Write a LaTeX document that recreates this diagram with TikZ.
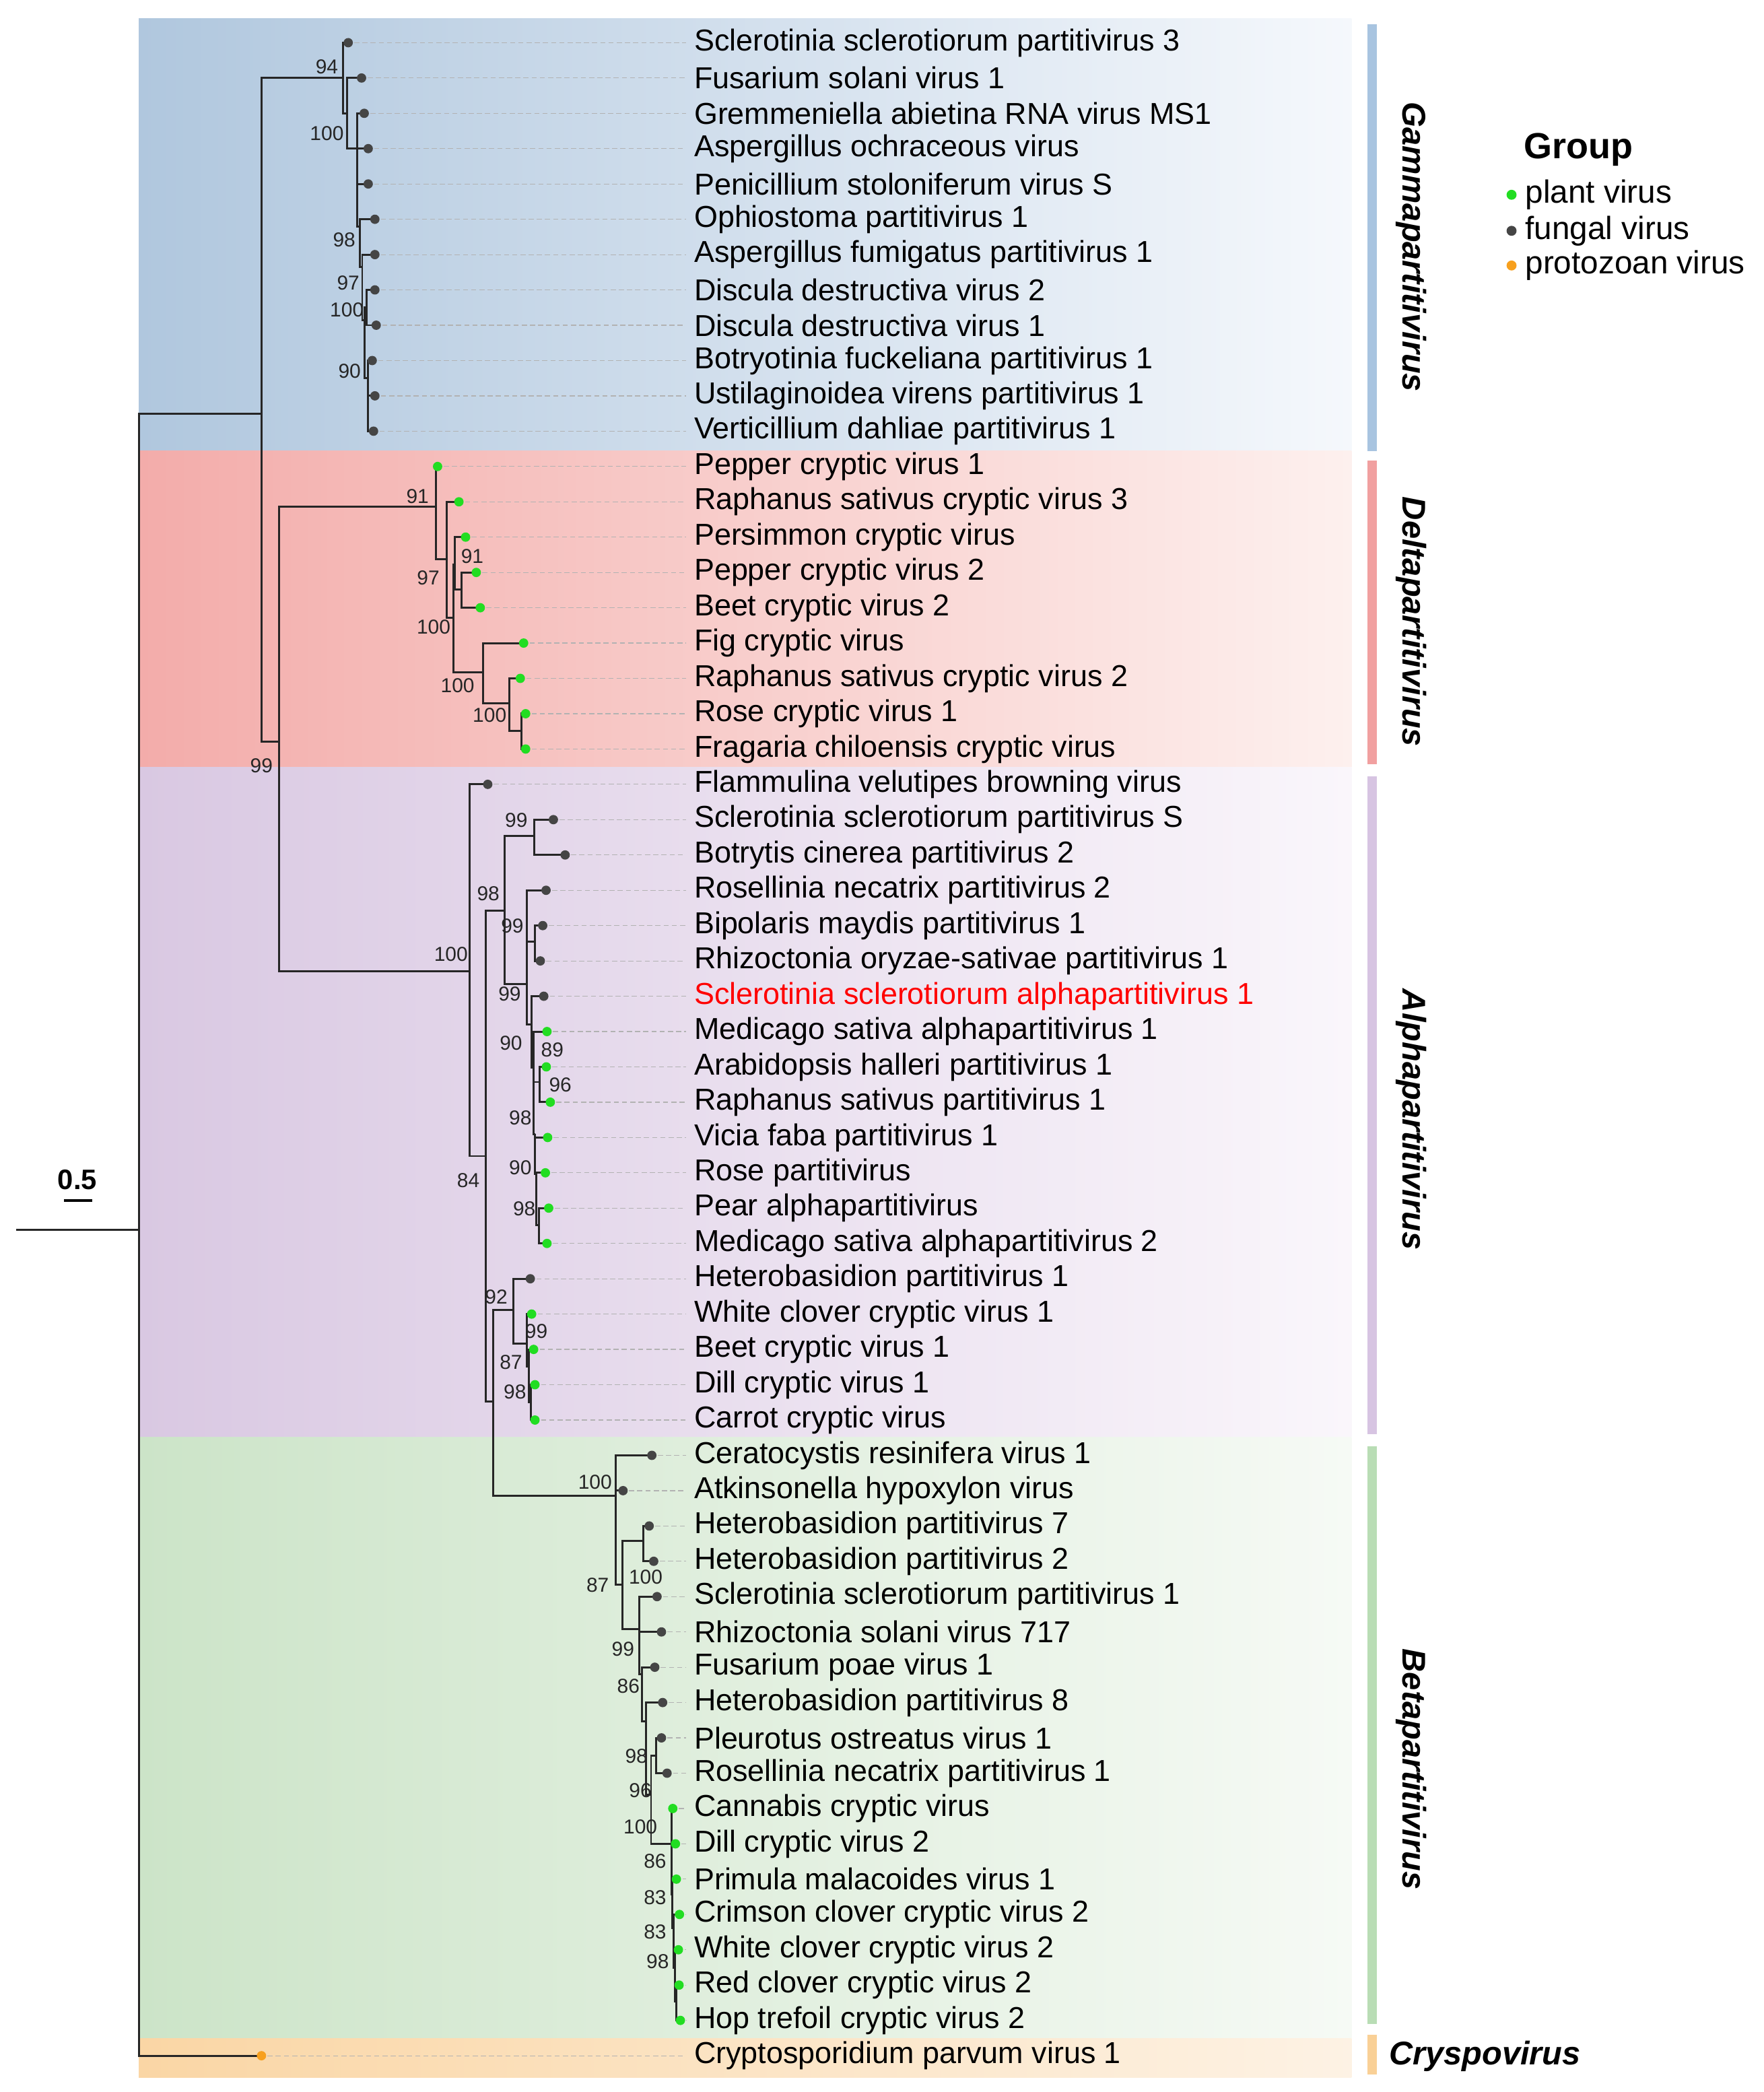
\documentclass[tikz,border=0pt]{standalone}
\usepackage{fontspec}
\setmainfont{Liberation Sans}
\definecolor{fungalc}{RGB}{69,69,69}
\definecolor{plantc}{RGB}{34,221,34}
\definecolor{protoc}{RGB}{247,160,30}
\definecolor{ssred}{RGB}{255,0,0}
\definecolor{gammal}{RGB}{176,199,222}
\definecolor{gammar}{RGB}{245,248,252}
\definecolor{deltal}{RGB}{243,172,170}
\definecolor{deltar}{RGB}{253,240,238}
\definecolor{alphal}{RGB}{217,200,226}
\definecolor{alphar}{RGB}{250,246,251}
\definecolor{betal}{RGB}{204,228,200}
\definecolor{betar}{RGB}{246,250,245}
\definecolor{cryspol}{RGB}{250,214,165}
\definecolor{cryspor}{RGB}{253,242,228}
\definecolor{gammabar}{RGB}{168,196,224}
\definecolor{deltabar}{RGB}{241,160,160}
\definecolor{alphabar}{RGB}{215,196,226}
\definecolor{betabar}{RGB}{185,221,181}
\definecolor{cryspobar}{RGB}{249,208,150}
\begin{document}
\begin{tikzpicture}[
        x=0.02cm, y=-0.02cm,
        branch/.style={line width=0.85pt, black!85},
        guide/.style={gray!60, line width=0.35pt, dash pattern=on 2.2pt off 1.3pt},
        leaf/.style={anchor=west, inner sep=0pt, font=\fontsize{12.9}{14}\selectfont},
        boot/.style={inner sep=0pt, font=\fontsize{8.6}{10}\selectfont, text=black!85},
        clade/.style={inner sep=0pt, font=\fontsize{14}{16}\selectfont\bfseries\itshape},
        legend/.style={anchor=west, inner sep=0pt, font=\fontsize{13.7}{15}\selectfont},
        fungal/.style={fill=fungalc},
        plant/.style={fill=plantc},
        protozoan/.style={fill=protoc}
    ]
        \useasboundingbox (0,0) rectangle (1322,1568);

        % Clade bands (drawn first)
        \shade[left color=gammal, right color=gammar] (104,14) rectangle (1013,338);
        \shade[left color=deltal, right color=deltar] (104,338) rectangle (1013,575);
        \shade[left color=alphal, right color=alphar] (104,575) rectangle (1013,1077);
        \shade[left color=betal, right color=betar] (104,1077) rectangle (1013,1528);
        \shade[left color=cryspol, right color=cryspor] (104,1528) rectangle (1013,1557);

        % Clade bars and names
        \fill[gammabar] (1025,18) rectangle (1032,338);
        \fill[deltabar] (1025,345) rectangle (1032,573);
        \fill[alphabar] (1025,582) rectangle (1032,1075);
        \fill[betabar] (1025,1084) rectangle (1032,1517);
        \fill[cryspobar] (1025,1525) rectangle (1032,1555);
        \node[clade, rotate=-90] (gammaname) at (1058,185) {Gammapartitivirus};
        \node[clade, rotate=-90] (deltaname) at (1058,466) {Deltapartitivirus};
        \node[clade, rotate=-90] (alphaname) at (1058,839) {Alphapartitivirus};
        \node[clade, rotate=-90] (betaname) at (1058,1326) {Betapartitivirus};
        \node[clade] (crysponame) at (1113,1541) {Cryspovirus};

        % Leaves: tip points and names
        \foreach \i/\tx/\name in {
            0/261/{Sclerotinia sclerotiorum partitivirus 3},
            1/271/{Fusarium solani virus 1},
            2/273/{Gremmeniella abietina RNA virus MS1},
            3/276/{Aspergillus ochraceous virus},
            4/276/{Penicillium stoloniferum virus S},
            5/281/{Ophiostoma partitivirus 1},
            6/281/{Aspergillus fumigatus partitivirus 1},
            7/281/{Discula destructiva virus 2},
            8/282/{Discula destructiva virus 1},
            9/279/{Botryotinia fuckeliana partitivirus 1},
            10/281/{Ustilaginoidea virens partitivirus 1},
            11/280/{Verticillium dahliae partitivirus 1},
            12/328/{Pepper cryptic virus 1},
            13/344/{Raphanus sativus cryptic virus 3},
            14/349/{Persimmon cryptic virus},
            15/357/{Pepper cryptic virus 2},
            16/360/{Beet cryptic virus 2},
            17/392.5/{Fig cryptic virus},
            18/390/{Raphanus sativus cryptic virus 2},
            19/394/{Rose cryptic virus 1},
            20/394/{Fragaria chiloensis cryptic virus},
            21/365.6/{Flammulina velutipes browning virus},
            22/414.8/{Sclerotinia sclerotiorum partitivirus S},
            23/423.6/{Botrytis cinerea partitivirus 2},
            24/409.3/{Rosellinia necatrix partitivirus 2},
            25/406.8/{Bipolaris maydis partitivirus 1},
            26/405/{Rhizoctonia oryzae-sativae partitivirus 1},
            27/407.6/{\textcolor{ssred}{Sclerotinia sclerotiorum alphapartitivirus 1}},
            28/410/{Medicago sativa alphapartitivirus 1},
            29/409.5/{Arabidopsis halleri partitivirus 1},
            30/412.5/{Raphanus sativus partitivirus 1},
            31/410.5/{Vicia faba partitivirus 1},
            32/408.8/{Rose partitivirus},
            33/411.3/{Pear alphapartitivirus},
            34/410/{Medicago sativa alphapartitivirus 2},
            35/397.5/{Heterobasidion partitivirus 1},
            36/398.5/{White clover cryptic virus 1},
            37/400/{Beet cryptic virus 1},
            38/401/{Dill cryptic virus 1},
            39/401/{Carrot cryptic virus},
            40/488.6/{Ceratocystis resinifera virus 1},
            41/467/{Atkinsonella hypoxylon virus},
            42/486.6/{Heterobasidion partitivirus 7},
            43/490/{Heterobasidion partitivirus 2},
            44/492.5/{Sclerotinia sclerotiorum partitivirus 1},
            45/495.8/{Rhizoctonia solani virus 717},
            46/490.8/{Fusarium poae virus 1},
            47/496.7/{Heterobasidion partitivirus 8},
            48/495.8/{Pleurotus ostreatus virus 1},
            49/500/{Rosellinia necatrix partitivirus 1},
            50/504.3/{Cannabis cryptic virus},
            51/506.3/{Dill cryptic virus 2},
            52/507/{Primula malacoides virus 1},
            53/509.3/{Crimson clover cryptic virus 2},
            54/508.5/{White clover cryptic virus 2},
            55/509/{Red clover cryptic virus 2},
            56/510/{Hop trefoil cryptic virus 2},
            57/196/{Cryptosporidium parvum virus 1}} {
            \coordinate (t\i) at (\tx,{32+26.47*\i});
            \node[leaf] (l\i) at (520,{32+26.47*\i}) {\name};
            \draw[guide] ([xshift=0.09cm]t\i) -- ([xshift=-0.12cm]l\i.west);
        }

        % Internal nodes
        \coordinate (base) at (12,922);
        \coordinate (root) at (104,922);
        \coordinate (n1) at (196,310);
        \coordinate (n2) at (209,556);
        \coordinate (g0) at (257,58.5);
        \coordinate (g1) at (260,85);
        \coordinate (g2) at (267.6,111.4);
        \coordinate (g3) at (269.5,170);
        \coordinate (g4) at (271.5,200);
        \coordinate (g5) at (273.5,240);
        \coordinate (g6) at (275,230.5);
        \coordinate (g7) at (276,283.5);
        \coordinate (d0) at (327,380);
        \coordinate (d1) at (335,419);
        \coordinate (d2) at (340,463);
        \coordinate (d3) at (341,423);
        \coordinate (d7) at (346,442);
        \coordinate (d4) at (362.3,504);
        \coordinate (d5) at (381.6,527);
        \coordinate (d6) at (390.8,547.6);
        \coordinate (n3) at (352,728);
        \coordinate (n4) at (363.9,866.5);
        \coordinate (n5) at (378.2,682.5);
        \coordinate (n6) at (369.8,1050.5);
        \coordinate (n7) at (385,982);
        \coordinate (n8) at (395,1007);
        \coordinate (n9) at (396.5,1024);
        \coordinate (n10) at (398,1051);
        \coordinate (n11) at (400.4,626.3);
        \coordinate (n12) at (395,737.4);
        \coordinate (n13) at (401,706);
        \coordinate (n14) at (398.4,768);
        \coordinate (n15) at (400,800);
        \coordinate (n17) at (404.5,811);
        \coordinate (n18) at (401,850);
        \coordinate (n19) at (402,880);
        \coordinate (n20) at (404,918);
        \coordinate (b0) at (461.4,1121);
        \coordinate (b1) at (466.5,1187.6);
        \coordinate (b2) at (482.4,1154.8);
        \coordinate (b3) at (479,1221);
        \coordinate (b4) at (481,1255);
        \coordinate (b5) at (484,1290);
        \coordinate (b6) at (488,1345);
        \coordinate (b7) at (492,1316);
        \coordinate (b8) at (503.3,1382);
        \coordinate (b9) at (504,1420);
        \coordinate (b10) at (505,1445);
        \coordinate (b11) at (506,1475);
        \coordinate (b12) at (507,1500);

        % Branches
        \draw[branch] (base) -- (root);
        \foreach \p/\c in {root/n1, root/t57, n1/g0, n1/n2,
            g0/t0, g0/g1, g1/t1, g1/g2, g2/t2, g2/t3, g2/t4, g2/g3, g3/t5, g3/g4,
            g4/t6, g4/g5, g5/g6, g5/g7, g6/t7, g6/t8, g7/t9, g7/t10, g7/t11,
            n2/d0, n2/n3, d0/t12, d0/d1, d1/t13, d1/d2, d2/d3, d2/d4, d3/t14, d3/d7,
            d7/t15, d7/t16, d4/t17, d4/d5, d5/t18, d5/d6, d6/t19, d6/t20,
            n3/t21, n3/n4, n4/n5, n4/n6, n5/n11, n5/n12, n11/t22, n11/t23,
            n12/t24, n12/n13, n12/n14, n13/t25, n13/t26, n14/t27, n14/n15,
            n15/t28, n15/n17, n15/n18, n17/t29, n17/t30, n18/t31, n18/n19,
            n19/t32, n19/n20, n20/t33, n20/t34,
            n6/n7, n6/b0, n7/t35, n7/n8, n8/t36, n8/n9, n9/t37, n9/n10, n10/t38, n10/t39,
            b0/t40, b0/t41, b0/b1, b1/b2, b1/b3, b2/t42, b2/t43, b3/t44, b3/t45, b3/b4,
            b4/t46, b4/b5, b5/t47, b5/b6, b6/b7, b6/b8, b7/t48, b7/t49,
            b8/t50, b8/t51, b8/b9, b9/t52, b9/b10, b10/t53, b10/b11, b11/t54, b11/b12,
            b12/t55, b12/t56} {
            \draw[branch] (\p) |- (\c);
        }

        % Tip dots (drawn last)
        \foreach \a/\b in {0/11, 21/27, 35/35, 40/49} {
            \foreach \i in {\a,...,\b} \fill[fungal] (t\i) circle[radius=0.07cm];
        }
        \foreach \a/\b in {12/20, 28/34, 36/39, 50/56} {
            \foreach \i in {\a,...,\b} \fill[plant] (t\i) circle[radius=0.07cm];
        }
        \fill[protozoan] (t57) circle[radius=0.07cm];

        % Bootstrap values
        \foreach \bx/\by/\bv [count=\k] in {245/50/94, 245/100/100, 258/180/98, 261/212/97,
            260/232/100, 262/278/90, 196/574/99,
            313/372/91, 354/417/91, 321/433/97, 325/470/100, 343/514/100, 367/536/100,
            338/715/100, 387/615/99, 366/670/98, 384/694/99, 382/745/99, 383/782/90,
            414/787/89, 420/813/96, 390/838/98, 390/875/90, 393/906/98, 351/885/84,
            372/972/92, 402/998/99, 383/1021/87, 386/1043/98,
            446/1111/100, 484/1182/100, 448/1188/87, 467/1236/99, 471/1264/86,
            477/1316/98, 480/1342/96, 480/1369/100, 491/1395/86, 491/1422/83,
            491/1448/83, 493/1470/98} {
            \node[boot] (bs\k) at (\bx,\by) {\bv};
        }

        % Scale bar
        \node[inner sep=0pt, font=\fontsize{12}{13}\selectfont\bfseries] (scale) at (58,884) {0.5};
        \draw[line width=1.2pt] (48,900) -- (69,900);

        % Legend
        \node[inner sep=0pt, font=\fontsize{15.5}{17}\selectfont\bfseries] (grouptitle) at (1183,112) {Group};
        \fill[plant] (1133,146) circle[radius=0.075cm];
        \fill[fungal] (1133,173) circle[radius=0.075cm];
        \fill[protozoan] (1133,199) circle[radius=0.075cm];
        \node[legend] (plantkey) at (1143,146) {plant virus};
        \node[legend] (fungalkey) at (1143,173) {fungal virus};
        \node[legend] (protokey) at (1143,199) {protozoan virus};
    \end{tikzpicture}
\end{document}
